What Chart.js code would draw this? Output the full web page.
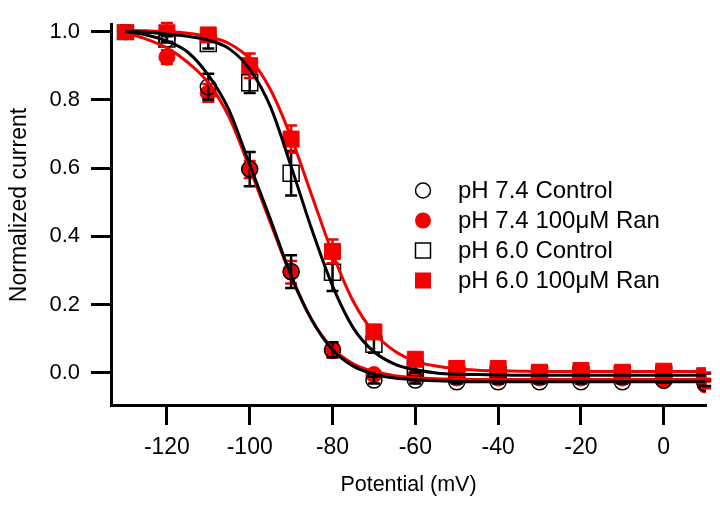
<!DOCTYPE html>
<html>

<head>
    <title>Normalized current</title>
    <meta http-equiv="Content-type" content="text/html; charset=utf-8">
    <script src="https://cdn.jsdelivr.net/npm/chart.js@4.4.1/dist/chart.umd.min.js"></script>
    <style>
        body { margin: 0; background: #fff; }
        #wrap { width: 720px; height: 505px; position: relative; }
    </style>
</head>

<body>
    <div id="wrap">
        <canvas id="act-curve"></canvas>
    </div>

    <script>
        // ---- data ----
        var potentials = [-130, -120, -110, -100, -90, -80, -70, -60, -50, -40, -30, -20, -10, 0, 10];

        var ctrl74    = [1.0, 0.978, 0.838, 0.597, 0.297, 0.068, -0.021, -0.021, -0.026, -0.026, -0.026, -0.026, -0.026, -0.022, -0.03];
        var ctrl74Err = [0.005, 0.01, 0.038, 0.05, 0.048, 0.022, 0.01, 0.01, 0.005, 0.005, 0.005, 0.005, 0.005, 0.005, 0.008];
        var ran74     = [1.0, 0.925, 0.82, 0.596, 0.295, 0.065, -0.005, -0.01, -0.015, -0.015, -0.015, -0.015, -0.015, -0.02, -0.035];
        var ran74Err  = [0.005, 0.02, 0.026, 0.025, 0.033, 0.02, 0.01, 0.008, 0.005, 0.005, 0.005, 0.005, 0.005, 0.008, 0.01];
        var ctrl60    = [1.0, 0.978, 0.965, 0.85, 0.585, 0.295, 0.084, 0.013, -0.005, -0.005, -0.005, -0.005, -0.005, -0.005, -0.01];
        var ctrl60Err = [0.005, 0.008, 0.015, 0.03, 0.065, 0.055, 0.025, 0.012, 0.005, 0.005, 0.005, 0.005, 0.005, 0.005, 0.008];
        var ran60     = [1.0, 1.015, 0.99, 0.9, 0.685, 0.356, 0.12, 0.04, 0.013, 0.013, 0.002, 0.007, 0.002, 0.005, -0.009];
        var ran60Err  = [0.005, 0.01, 0.012, 0.036, 0.04, 0.035, 0.02, 0.01, 0.006, 0.006, 0.005, 0.005, 0.005, 0.005, 0.01];

        // fitted curves, sampled every 5 mV
        var fitV       = [-130, -125, -120, -115, -110, -105, -100, -95, -90, -85, -80, -75, -70, -65, -60, -55, -50, -45, -40, -35, -30, -25, -20, -15, -10, -5, 0, 5, 10];
        var fitCtrl74  = [1.0, 0.99, 0.972, 0.94, 0.872, 0.77, 0.61, 0.45, 0.285, 0.155, 0.068, 0.02, -0.003, -0.015, -0.02, -0.023, -0.025, -0.026, -0.026, -0.026, -0.026, -0.026, -0.026, -0.026, -0.026, -0.026, -0.026, -0.026, -0.026];
        var fitRan74   = [0.995, 0.978, 0.952, 0.91, 0.85, 0.75, 0.6, 0.44, 0.282, 0.155, 0.072, 0.027, 0.004, -0.008, -0.014, -0.017, -0.018, -0.019, -0.019, -0.019, -0.019, -0.019, -0.019, -0.019, -0.019, -0.019, -0.019, -0.019, -0.019];
        var fitCtrl60  = [1.0, 0.998, 0.993, 0.986, 0.975, 0.95, 0.89, 0.78, 0.605, 0.42, 0.255, 0.132, 0.062, 0.026, 0.009, 0.0, -0.004, -0.005, -0.006, -0.007, -0.007, -0.007, -0.007, -0.007, -0.007, -0.007, -0.007, -0.007, -0.007];
        var fitRan60   = [1.003, 1.002, 1.0, 0.995, 0.985, 0.965, 0.92, 0.83, 0.69, 0.52, 0.35, 0.21, 0.118, 0.064, 0.034, 0.02, 0.012, 0.008, 0.006, 0.005, 0.004, 0.004, 0.004, 0.004, 0.004, 0.004, 0.004, 0.004, 0.004];

        var seriesNames = ["pH 7.4 Control", "pH 7.4 100\u03BCM Ran", "pH 6.0 Control", "pH 6.0 100\u03BCM Ran"];
        var xTicks = [-120, -100, -80, -60, -40, -20, 0];
        var yTicks = [0.0, 0.2, 0.4, 0.6, 0.8, 1.0];

        var RED = "#f40000";
        var BLACK = "#000000";
        var FONT = "'Liberation Sans', Arial, sans-serif";

        function pts(xs, ys) {
            return xs.map(function(x, i) { return { x: x, y: ys[i] }; });
        }

        // vertical error bars with caps, drawn right after their own dataset
        var errorBars = {
            id: "errorBars",
            afterDatasetDraw: function(chart, args) {
                var ds = chart.data.datasets[args.index];
                if (!ds.errors) return;
                var ctx = chart.ctx;
                var xs = chart.scales.x, ys = chart.scales.y;
                ctx.save();
                ctx.strokeStyle = ds.errColor;
                ctx.lineWidth = 2.5;
                ds.data.forEach(function(p, i) {
                    var e = ds.errors[i];
                    if (!e) return;
                    var px = xs.getPixelForValue(p.x);
                    var top = ys.getPixelForValue(p.y + e);
                    var bot = ys.getPixelForValue(p.y - e);
                    ctx.beginPath();
                    ctx.moveTo(px, top); ctx.lineTo(px, bot);
                    ctx.moveTo(px - 6, top); ctx.lineTo(px + 6, top);
                    ctx.moveTo(px - 6, bot); ctx.lineTo(px + 6, bot);
                    ctx.stroke();
                });
                ctx.restore();
            }
        };

        // legend box on the right, inside the plot
        var legendBox = {
            id: "legendBox",
            afterDraw: function(chart) {
                var ctx = chart.ctx;
                var mx = 423, tx = 458, y0 = 190.5, step = 30;
                ctx.save();
                ctx.font = "24px " + FONT;
                ctx.textBaseline = "middle";
                ctx.fillStyle = BLACK;
                seriesNames.forEach(function(name, i) {
                    var y = y0 + i * step;
                    ctx.beginPath();
                    if (i == 0) {
                        ctx.arc(mx, y, 7.5, 0, Math.PI * 2);
                        ctx.lineWidth = 1.5; ctx.strokeStyle = BLACK; ctx.stroke();
                    } else if (i == 1) {
                        ctx.arc(mx, y, 8, 0, Math.PI * 2);
                        ctx.fillStyle = RED; ctx.fill();
                    } else if (i == 2) {
                        ctx.rect(mx - 7.5, y - 7.5, 15, 15);
                        ctx.lineWidth = 1.5; ctx.strokeStyle = BLACK; ctx.stroke();
                    } else {
                        ctx.rect(mx - 8, y - 8, 16, 16);
                        ctx.fillStyle = RED; ctx.fill();
                    }
                    ctx.fillStyle = BLACK;
                    ctx.fillText(name, tx, y + 1);
                });
                ctx.restore();
            }
        };

        function fitLine(ys, color) {
            return {
                data: pts(fitV, ys),
                showLine: true,
                borderColor: color,
                borderWidth: 3,
                pointRadius: 0,
                cubicInterpolationMode: "monotone",
                order: 0
            };
        }

        function markers(name, ys, errs, style, color, filled, order) {
            return {
                label: name,
                data: pts(potentials, ys),
                errors: errs,
                errColor: color,
                pointStyle: style,
                pointRadius: style == "rect" ? 11.3 : 8,
                pointBorderWidth: filled ? 1 : 1.5,
                pointBorderColor: color,
                pointBackgroundColor: filled ? color : "rgba(0,0,0,0)",
                showLine: false,
                order: order
            };
        }

        Chart.defaults.font.family = FONT;
        Chart.defaults.color = BLACK;

        new Chart(document.getElementById("act-curve"), {
            type: "scatter",
            data: {
                datasets: [
                    fitLine(fitCtrl74, BLACK),
                    fitLine(fitRan74, RED),
                    fitLine(fitCtrl60, BLACK),
                    fitLine(fitRan60, RED),
                    markers(seriesNames[3], ran60, ran60Err, "rect", RED, true, 1),
                    markers(seriesNames[2], ctrl60, ctrl60Err, "rect", BLACK, false, 2),
                    markers(seriesNames[0], ctrl74, ctrl74Err, "circle", BLACK, false, 3),
                    markers(seriesNames[1], ran74, ran74Err, "circle", RED, true, 4)
                ]
            },
            options: {
                responsive: true,
                maintainAspectRatio: false,
                animation: false,
                layout: { padding: { top: 15, right: 14, left: 0, bottom: 0 } },
                plugins: {
                    legend: { display: false },
                    tooltip: { enabled: false }
                },
                scales: {
                    x: {
                        type: "linear",
                        min: -133.5,
                        max: 10.2,
                        afterBuildTicks: function(s) {
                            s.ticks = xTicks.map(function(v) { return { value: v }; });
                        },
                        afterFit: function(s) { s.height = 100; },
                        grid: { drawOnChartArea: false, drawTicks: true, tickLength: 20, tickWidth: 3, tickColor: BLACK },
                        border: { display: true, color: BLACK, width: 3 },
                        ticks: { font: { size: 23 }, padding: 9, maxRotation: 0 },
                        title: { display: true, text: "Potential (mV)", font: { size: 21.5 }, padding: { top: 0, bottom: 7 } }
                    },
                    y: {
                        type: "linear",
                        min: -0.094,
                        max: 1.0215,
                        afterBuildTicks: function(s) {
                            s.ticks = yTicks.map(function(v) { return { value: v }; });
                        },
                        afterFit: function(s) { s.width = 111; },
                        grid: { drawOnChartArea: false, drawTicks: true, tickLength: 20, tickWidth: 3, tickColor: BLACK },
                        border: { display: true, color: BLACK, width: 3 },
                        ticks: {
                            font: { size: 22 },
                            padding: 11,
                            callback: function(v) { return v.toFixed(1); }
                        },
                        // leading spaces nudge the centred label a little upward
                        title: { display: true, text: "   Normalized current", font: { size: 23 }, padding: { top: 6, bottom: 0 } }
                    }
                }
            },
            plugins: [errorBars, legendBox]
        });
    </script>

</body>

</html>
